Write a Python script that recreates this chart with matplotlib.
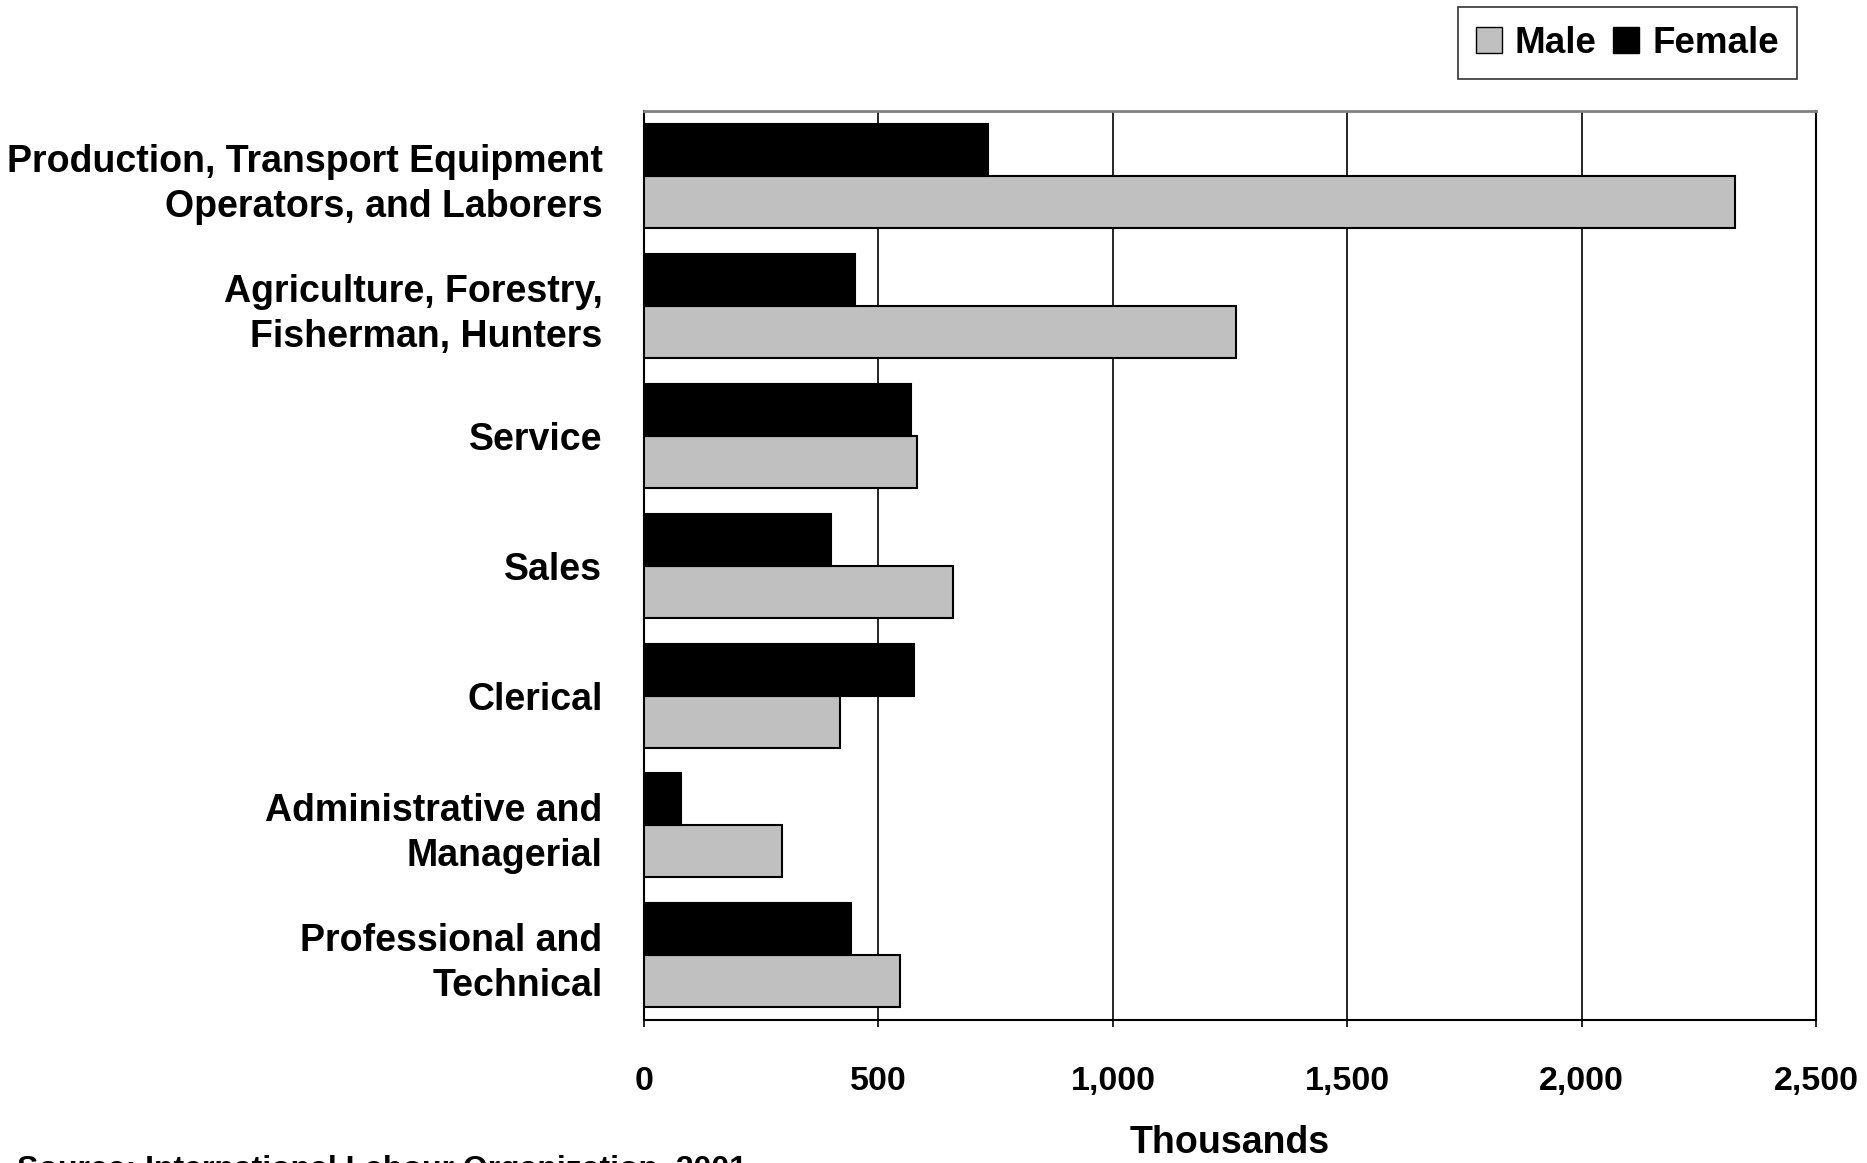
import numpy as np
import matplotlib
matplotlib.use("Agg")
import matplotlib.pyplot as plt
from matplotlib.patches import Patch
from matplotlib.ticker import FuncFormatter

plt.rcParams["font.family"] = ["Liberation Sans", "DejaVu Sans"]
plt.rcParams["font.weight"] = "bold"

# categories listed bottom to top
categories = [
    "Professional and\nTechnical",
    "Administrative and\nManagerial",
    "Clerical",
    "Sales",
    "Service",
    "Agriculture, Forestry,\nFisherman, Hunters",
    "Production, Transport Equipment\nOperators, and Laborers",
]
male = [546, 295, 418, 658, 582, 1263, 2327]
female = [442, 78, 575, 399, 570, 450, 734]
xticks = [0, 500, 1000, 1500, 2000, 2500]

fig = plt.figure(figsize=(18.67, 11.63), dpi=100)
ax = fig.add_axes([0.345, 0.1226, 0.6277, 0.7822])

y = np.arange(len(categories))
h = 0.4
ax.barh(y - h / 2, male, height=h, color="#C0C0C0", edgecolor="black", linewidth=1.5, zorder=3)
ax.barh(y + h / 2, female, height=h, color="black", edgecolor="black", linewidth=1.5, zorder=3)

ax.set_xlim(0, 2500)
ax.set_ylim(-0.5, len(categories) - 0.5)
ax.set_xticks(xticks)
ax.xaxis.set_major_formatter(FuncFormatter(lambda v, p: f"{int(v):,}"))
ax.set_yticks(y)
ax.set_yticklabels(categories, fontsize=27, fontweight="bold", ha="right", linespacing=1.32)
ax.tick_params(axis="y", length=0, pad=30)
ax.tick_params(axis="x", length=5, width=1.2, pad=28, labelsize=24.5)
for t in ax.get_xticklabels():
    t.set_fontweight("bold")

ax.grid(axis="x", color="black", linewidth=1.2, zorder=1)
for s in ["left", "right", "bottom"]:
    ax.spines[s].set_color("black")
    ax.spines[s].set_linewidth(1.5)
ax.spines["top"].set_color("#808080")
ax.spines["top"].set_linewidth(2)

ax.set_xlabel("Thousands", fontsize=27, fontweight="bold", labelpad=20)

handles = [Patch(facecolor="#C0C0C0", edgecolor="black", label="Male"),
           Patch(facecolor="black", edgecolor="black", label="Female")]
leg = fig.legend(handles=handles, loc="upper right", bbox_to_anchor=(0.9645, 0.997), ncol=2,
                 fontsize=26.5, frameon=True, fancybox=False, edgecolor="black",
                 handlelength=0.7, handleheight=0.7, handletextpad=0.35, columnspacing=0.45,
                 borderpad=0.5, borderaxespad=0.1)
leg.get_frame().set_linewidth(1.2)
for t in leg.get_texts():
    t.set_fontweight("bold")

fig.text(0.009, 0.007, "Source: International Labour Organization, 2001", fontsize=23,
         fontweight="bold", va="top", ha="left")

fig.savefig("out.png", dpi=100)
